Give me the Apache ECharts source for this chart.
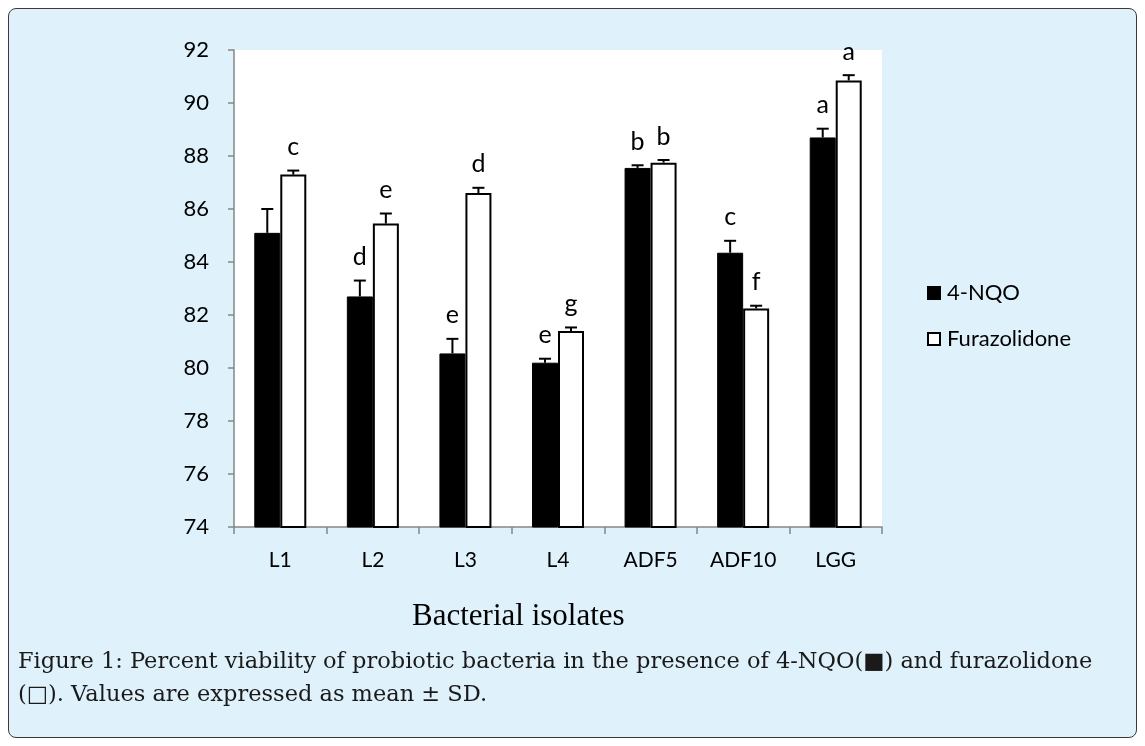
<!DOCTYPE html>
<html>
<head>
<meta charset="utf-8">
<script src="https://cdn.jsdelivr.net/npm/echarts@6/dist/echarts.min.js"></script>
<style>
  html, body { margin: 0; padding: 0; background: #ffffff; }
  #frame {
    position: absolute; left: 8px; top: 8px;
    width: 1127px; height: 728px;
    background: #dff1fb;
    border: 1px solid #3a3a3a;
    border-radius: 8px;
  }
  #chart { position: absolute; left: 0; top: 0; width: 1145px; height: 746px; }
</style>
</head>
<body>
<div id="frame"></div>
<div id="chart"></div>
<script>
  // chart data
  var categories = ['L1', 'L2', 'L3', 'L4', 'ADF5', 'ADF10', 'LGG'];
  var nqoValues = [85.1, 82.7, 80.55, 80.2, 87.55, 84.35, 88.7];
  var nqoSd = [0.9, 0.6, 0.55, 0.15, 0.1, 0.45, 0.33];
  var nqoLetters = ['', 'd', 'e', 'e', 'b', 'c', 'a'];
  var furValues = [87.3, 85.45, 86.6, 81.4, 87.75, 82.25, 90.85];
  var furSd = [0.15, 0.38, 0.2, 0.13, 0.1, 0.1, 0.2];
  var furLetters = ['c', 'e', 'd', 'g', 'b', 'f', 'a'];
  var yTicks = [74, 76, 78, 80, 82, 84, 86, 88, 90, 92];

  var barW = 26;
  var fontUi = 'Lato, "Open Sans", sans-serif';

  // error bar (upper half only) + significance letter
  function errorBars(values, sd, letters, offset) {
    return {
      type: 'custom',
      silent: true,
      z: 5,
      data: values.map(function (v, i) { return [i, v, sd[i]]; }),
      renderItem: function (params, api) {
        var i = api.value(0);
        var base = api.coord([i, api.value(1)]);
        var top = api.coord([i, api.value(1) + api.value(2)]);
        var x = base[0] + offset;
        var st = { stroke: '#000', lineWidth: 2 };
        var kids = [
          { type: 'line', shape: { x1: x, y1: base[1], x2: x, y2: top[1] }, style: st },
          { type: 'line', shape: { x1: x - 6, y1: top[1], x2: x + 6, y2: top[1] }, style: st }
        ];
        if (letters[i]) {
          kids.push({
            type: 'text',
            style: {
              x: x, y: top[1] - 11, text: letters[i],
              fill: '#000', font: '25px ' + fontUi,
              align: 'center', verticalAlign: 'bottom'
            }
          });
        }
        return { type: 'group', children: kids };
      }
    };
  }

  var chart = echarts.init(document.getElementById('chart'));
  var option = {
    backgroundColor: 'transparent',
    animation: false,
    title: {
      left: 13,
      top: 641,
      text: 'Figure 1: Percent viability of probiotic bacteria in the presence of 4-NQO(\u25A0) and furazolidone\n(\u25A1). Values are expressed as mean \u00B1 SD.',
      textStyle: {
        fontFamily: '"DejaVu Serif", serif',
        fontWeight: 'normal',
        fontSize: 22.5,
        lineHeight: 33,
        color: '#1a1a1a'
      }
    },
    graphic: [
      {
        type: 'text',
        left: 412,
        top: 601,
        style: {
          text: 'Bacterial isolates',
          font: '31px "Liberation Serif", serif',
          fill: '#000'
        }
      }
    ],
    legend: {
      orient: 'vertical',
      left: 922,
      top: 277,
      itemWidth: 12,
      itemHeight: 12,
      itemGap: 24,
      icon: 'rect',
      textStyle: { fontFamily: fontUi, fontSize: 22, color: '#000', padding: [0, 0, 0, 2] },
      data: ['4-NQO', 'Furazolidone']
    },
    grid: {
      left: 234,
      top: 50,
      width: 648,
      height: 477,
      show: true,
      backgroundColor: '#ffffff',
      borderWidth: 0
    },
    xAxis: {
      type: 'category',
      data: categories,
      axisLine: { lineStyle: { color: '#868686', width: 1.5 } },
      axisTick: { show: true, length: 7, lineStyle: { color: '#868686', width: 1.5 } },
      axisLabel: { fontFamily: fontUi, fontSize: 21, color: '#000', margin: 23 }
    },
    yAxis: {
      type: 'value',
      min: yTicks[0],
      max: yTicks[yTicks.length - 1],
      interval: 2,
      splitLine: { show: false },
      axisLine: { show: true, lineStyle: { color: '#868686', width: 1.5 } },
      axisTick: { show: true, length: 6, lineStyle: { color: '#868686', width: 1.5 } },
      axisLabel: { fontFamily: fontUi, fontSize: 22, color: '#000', margin: 25 }
    },
    series: [
      {
        name: '4-NQO',
        type: 'bar',
        barWidth: barW,
        barGap: '0%',
        data: nqoValues,
        itemStyle: { color: '#000', borderColor: '#000', borderWidth: 1 }
      },
      {
        name: 'Furazolidone',
        type: 'bar',
        barWidth: barW,
        barGap: '0%',
        data: furValues,
        itemStyle: { color: '#fff', borderColor: '#000', borderWidth: 2 }
      },
      errorBars(nqoValues, nqoSd, nqoLetters, -barW / 2),
      errorBars(furValues, furSd, furLetters, barW / 2)
    ]
  };
  chart.setOption(option);
</script>
</body>
</html>
